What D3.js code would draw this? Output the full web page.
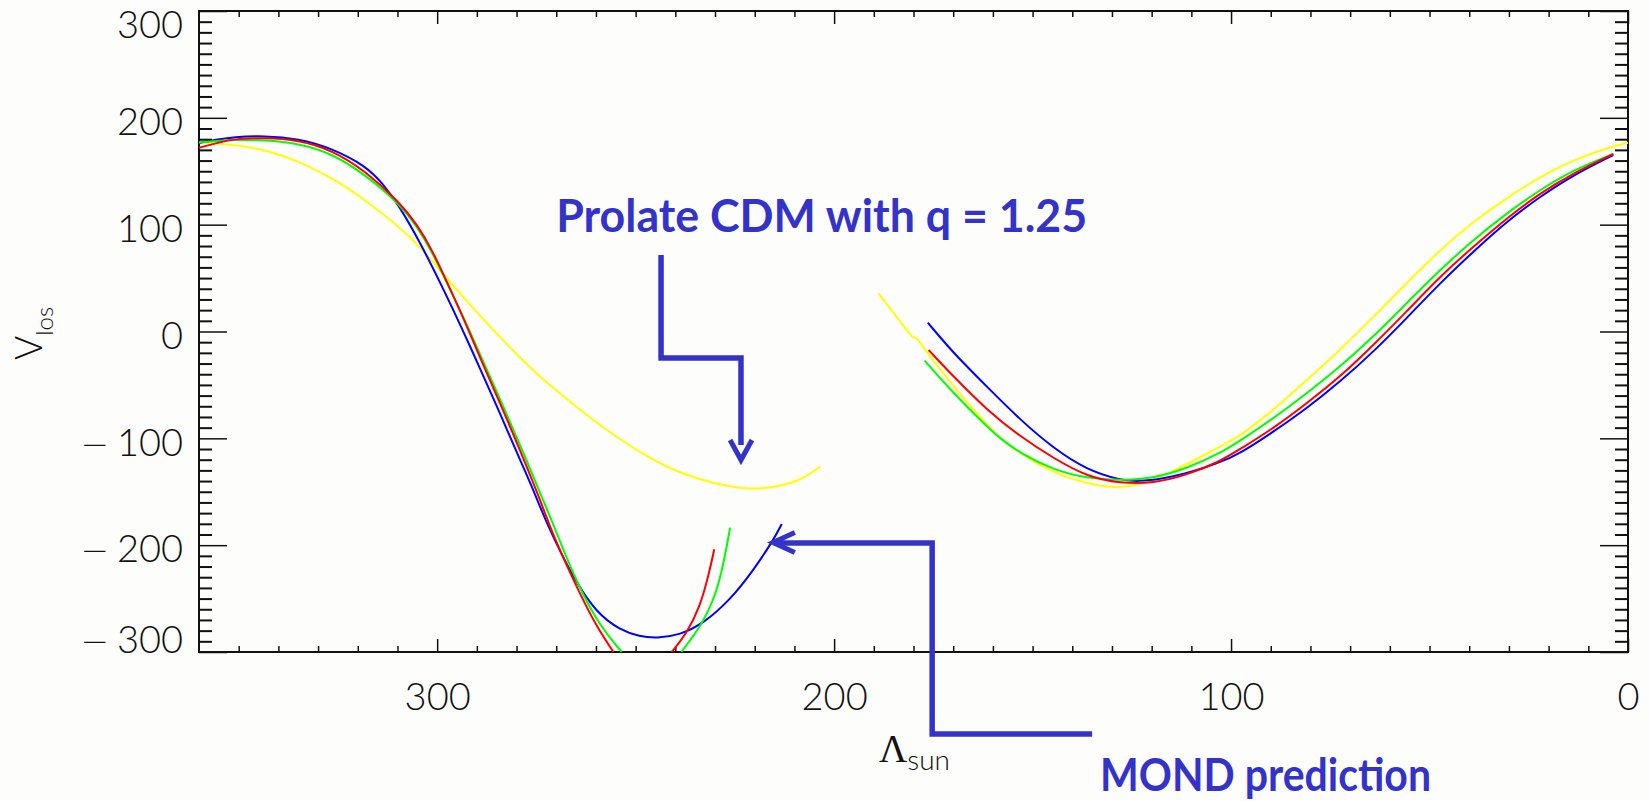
<!DOCTYPE html>
<html>
<head>
<meta charset="utf-8">
<script src="https://cdn.jsdelivr.net/npm/d3@7"></script>
<style>
  html, body { margin: 0; padding: 0; background: #fdfdfc; }
  svg { display: block; }
</style>
</head>
<body>
<svg id="chart" width="1650" height="801"></svg>
<script>
// ---- Tick values -------------------------------------------------------
const lambdaMajor = [300, 200, 100, 0];
const lambdaMinor = d3.range(10, 360, 10).filter(d => d % 100 !== 0);
const velocityMajor = [-300, -200, -100, 0, 100, 200, 300];
const velocityMinor = d3.range(-290, 300, 10).filter(d => d % 100 !== 0);

// ---- Model curves: [Lambda_sun, V_los] ---------------------------------
// MOND prediction (blue)
const mondLeft = [
  [360, 176.5], [355, 180], [351.5, 182], [343.5, 183.3], [335, 180.5], [326.5, 171.5],
  [318, 155], [313.8, 139], [309.6, 118], [304.1, 82], [299, 44], [294, 5],
  [288.8, -38], [284, -78], [280.8, -106], [276, -146], [272.4, -180],
  [265.7, -231], [259.8, -263.8], [253.9, -279.4], [249, -285.5], [244.7, -287.2],
  [238.8, -284.1], [232.9, -273.2], [226.2, -251.3], [220.3, -223.3], [215.3, -195.2],
  [213.2, -180.2]
];
const mondRight = [
  [176.4, 8.3], [169.9, -20.4], [161.5, -51.6], [153.1, -82.8], [144.7, -109.4],
  [136.3, -129.6], [127.9, -139], [123.7, -140.6], [115.3, -137.4], [102.8, -123],
  [97.7, -114], [89.3, -93.8], [80.9, -71.9], [72.5, -46.9], [64.1, -18.9], [55.8, 12.3],
  [47.4, 45.1], [39, 74.7], [30.6, 102.8], [22.2, 126.2], [13.8, 146.5], [3.7, 165.2]
];

// CDM halo (red)
const cdmRedLeft = [
  [360, 172], [355, 176.8], [351.5, 180.2], [343.5, 181.4], [335, 179.3], [326.5, 170],
  [318, 150], [309.6, 121.5], [305, 100], [301.2, 76], [297, 42], [292.8, 7.6],
  [288.6, -29.8], [284.4, -65], [279.1, -111], [274, -158], [270.7, -192],
  [264, -246], [259.8, -276.3], [255.6, -300]
];
const cdmRedMid = [
  [240.9, -300], [237.1, -282.5], [233.8, -257.6], [231.7, -229.5], [230.2, -203.9]
];
const cdmRedRight = [
  [176.2, -17.3], [169.9, -42.3], [161.5, -73.5], [153.1, -98.4], [144.7, -118.7],
  [136.3, -135.9], [127.9, -142.1], [119.5, -142.1], [111.1, -134.3], [102.8, -121.8],
  [97.7, -110], [89.3, -90.6], [80.9, -67.2], [72.5, -42.3], [64.1, -12.6], [55.8, 18.6],
  [47.4, 51.3], [39, 79.4], [30.6, 105.9], [22.2, 129.3], [13.8, 148.1], [3.7, 166.2]
];

// CDM halo (green)
const cdmGreenLeft = [
  [360, 176.8], [355, 178.5], [351.5, 179.3], [343.5, 179.3], [335, 176.1], [326.5, 166.8],
  [318, 146.5], [309.6, 120], [305, 98], [301.2, 74], [297, 41], [292.8, 9.2],
  [288.6, -26.7], [284.4, -61], [277.4, -121], [271, -178], [265.7, -228],
  [259.8, -272], [253.5, -300]
];
const cdmGreenMid = [
  [238.5, -300], [233.3, -274.7], [229.6, -245.1], [227.5, -210.8], [226.2, -183.6]
];
const cdmGreenRight = [
  [177.2, -27.3], [169.9, -57.9], [161.5, -89.1], [158.2, -100], [153.1, -114],
  [144.7, -129.6], [136.3, -137.4], [127.9, -139.6], [119.5, -137.4], [111.1, -128.1],
  [102.8, -114], [97.7, -102.2], [89.3, -81.3], [80.9, -57.9], [72.5, -32.9], [64.1, -4.8],
  [55.8, 26.4], [47.4, 57.6], [39, 85.6], [30.6, 110.6], [22.2, 132.5], [13.8, 151.2],
  [3.7, 166.2]
];

// Prolate CDM, q = 1.25 (yellow)
const prolateLeft = [
  [360, 177], [351.5, 175], [343, 170], [334.7, 159], [326.3, 143.5], [317.8, 122.3],
  [309.4, 97.5], [304.1, 78.5], [298.7, 54.5], [292.8, 29.5], [284.4, -4.8], [276, -36],
  [273.2, -45.4], [264, -73.5], [255.6, -96.9], [247.2, -117.2], [238.8, -132.8],
  [230.4, -142.1], [224, -146.5], [219.5, -147.4], [213.6, -145], [208.6, -139],
  [206, -133], [203.5, -126.5]
];
const prolateRight = [
  [188.8, 35.7], [180.8, -3.3], [180.2, -5.5], [179.3, -5.5], [178.3, -10.6], [175.8, -23.5],
  [169.9, -51.6], [161.5, -87.5], [158.2, -100], [153.1, -114], [144.7, -132.8],
  [136.3, -142.1], [129.6, -146.8], [122.9, -143.7], [115.3, -132.8], [102.8, -107.8],
  [97.7, -98], [89.3, -73.5], [80.9, -45.4], [72.5, -17.3], [64.1, 13.9], [55.8, 45.1],
  [47.4, 76.3], [39, 102.8], [30.6, 124.7], [22.2, 144.9], [13.8, 160.5], [5.4, 171.5],
  [0, 176.8]
];

const series = [
  { name: "prolate", color: "#ffff00", segments: [prolateLeft, prolateRight] },
  { name: "mond",    color: "#0000ff", segments: [mondLeft, mondRight] },
  { name: "green",   color: "#00ff00", segments: [cdmGreenLeft, cdmGreenMid, cdmGreenRight] },
  { name: "red",     color: "#ff0000", segments: [cdmRedLeft, cdmRedMid, cdmRedRight] }
];

// ---- Layout ------------------------------------------------------------
const W = 1650, H = 801;
const plot = { left: 199, right: 1628, top: 11, bottom: 652 };
const ink = "#111";
const noteBlue = "#3333cc";
const tickFont = "Lato, 'Open Sans', sans-serif";

const x = d3.scaleLinear().domain([360, 0]).range([plot.left, plot.right]);
const y = d3.scaleLinear().domain([-300, 300]).range([plot.bottom, plot.top]);

const svg = d3.select("#chart");
svg.append("rect").attr("width", W).attr("height", H).attr("fill", "#fdfdfc");

svg.append("defs").append("clipPath").attr("id", "plot-clip")
  .append("rect")
  .attr("x", plot.left).attr("y", plot.top)
  .attr("width", plot.right - plot.left).attr("height", plot.bottom - plot.top);

// ---- Axes (ticks point inward on all four sides) -------------------------
function drawAxis(gen, transform, strokeW) {
  const g = svg.append("g").attr("transform", transform).call(gen);
  g.select(".domain").remove();
  g.selectAll(".tick line").attr("stroke", ink).attr("stroke-width", strokeW);
  return g;
}

// bottom
const bottomMajor = drawAxis(
  d3.axisBottom(x).tickValues(lambdaMajor).tickSize(-13).tickPadding(31).tickFormat(d3.format("d")),
  `translate(0,${plot.bottom})`, 1.5);
drawAxis(d3.axisBottom(x).tickValues(lambdaMinor).tickSize(-6).tickFormat(""),
  `translate(0,${plot.bottom})`, 1.5);
// top
drawAxis(d3.axisTop(x).tickValues(lambdaMajor).tickSize(-13).tickFormat(""),
  `translate(0,${plot.top})`, 1.5);
drawAxis(d3.axisTop(x).tickValues(lambdaMinor).tickSize(-6).tickFormat(""),
  `translate(0,${plot.top})`, 1.5);
// left
const leftMajor = drawAxis(
  d3.axisLeft(y).tickValues(velocityMajor).tickSize(-28).tickPadding(16).tickFormat(d => String(Math.abs(d))),
  `translate(${plot.left},0)`, 1.5);
drawAxis(d3.axisLeft(y).tickValues(velocityMinor).tickSize(-13).tickFormat(""),
  `translate(${plot.left},0)`, 2);
// right
drawAxis(d3.axisRight(y).tickValues(velocityMajor).tickSize(-28).tickFormat(""),
  `translate(${plot.right},0)`, 1.5);
drawAxis(d3.axisRight(y).tickValues(velocityMinor).tickSize(-13).tickFormat(""),
  `translate(${plot.right},0)`, 2);

[bottomMajor, leftMajor].forEach(g => g.selectAll(".tick text")
  .attr("font-family", tickFont).attr("font-weight", 300)
  .attr("font-size", 38).attr("fill", ink));
// keep the end labels inside the frame's span
leftMajor.selectAll(".tick text")
  .attr("dy", d => d === 300 ? "0.70em" : d === -300 ? "0.02em" : "0.44em");
// negative labels get a long, detached minus sign
leftMajor.selectAll(".tick text").filter(d => d < 0).each(function (d) {
  const t = d3.select(this).text("");
  t.append("tspan").attr("font-family", "'DejaVu Sans', sans-serif").attr("font-weight", 200)
    .attr("font-size", 34).text("\u2212");
  t.append("tspan").attr("dx", 8).text(String(Math.abs(d)));
});

// frame
svg.append("rect")
  .attr("x", plot.left).attr("y", plot.top)
  .attr("width", plot.right - plot.left).attr("height", plot.bottom - plot.top)
  .attr("fill", "none").attr("stroke", ink).attr("stroke-width", 2);

// ---- Curves ------------------------------------------------------------
const line = d3.line().x(d => x(d[0])).y(d => y(d[1])).curve(d3.curveBasis);
const curves = svg.append("g").attr("clip-path", "url(#plot-clip)");
series.forEach(s => {
  curves.selectAll(null).data(s.segments).enter().append("path")
    .attr("d", line).attr("fill", "none")
    .attr("stroke", s.color).attr("stroke-width", 2)
    .attr("stroke-linejoin", "round");
});

// ---- Axis titles ---------------------------------------------------------
const yTitle = svg.append("text")
  .attr("transform", "translate(42,360) rotate(-90)")
  .attr("font-family", tickFont).attr("font-weight", 300).attr("fill", ink);
yTitle.append("tspan").attr("font-size", 37).text("V");
yTitle.append("tspan").attr("font-size", 24).attr("dy", 10.7).text("los");

const xTitle = svg.append("text")
  .attr("x", 879).attr("y", 762).attr("fill", ink);
xTitle.append("tspan").attr("font-family", "'Liberation Serif', 'DejaVu Serif', serif")
  .attr("font-size", 39).text("\u039B");
xTitle.append("tspan").attr("font-family", tickFont).attr("font-weight", 300)
  .attr("font-size", 28).attr("dy", 8).text("sun");

// ---- Annotations (anchored in data units) --------------------------------
const notes = [
  {
    text: "Prolate CDM with q = 1.25", at: [270, 92.9], width: 531,
    path: [[243.6, 71.6], [243.6, -24.8], [223.46, -24.8], [223.46, -106.2]],
    head: [[226.2, -101.6], [223.46, -120.3], [220.7, -101.6]]
  },
  {
    text: "MOND prediction", at: [133, -430.5], width: 331,
    path: [[135.0, -376.8], [175.3, -376.8], [175.3, -198.0], [214.4, -198.0]],
    head: [[209.9, -188.2], [215.4, -197.5], [209.9, -206.9]]
  }
];
const notePath = d3.line().x(d => x(d[0])).y(d => y(d[1]));
notes.forEach(n => {
  svg.append("path").attr("d", notePath(n.path)).attr("fill", "none")
    .attr("stroke", noteBlue).attr("stroke-width", 5.5).attr("stroke-linejoin", "miter");
  svg.append("path").attr("d", notePath(n.head)).attr("fill", "none")
    .attr("stroke", noteBlue).attr("stroke-width", 5).attr("stroke-linejoin", "miter");
  svg.append("text")
    .attr("x", x(n.at[0])).attr("y", y(n.at[1]))
    .attr("font-family", "Lato, 'DejaVu Sans', sans-serif").attr("font-weight", 700)
    .attr("font-size", 45).attr("fill", noteBlue)
    .attr("textLength", n.width).attr("lengthAdjust", "spacingAndGlyphs")
    .text(n.text);
});
</script>
</body>
</html>
